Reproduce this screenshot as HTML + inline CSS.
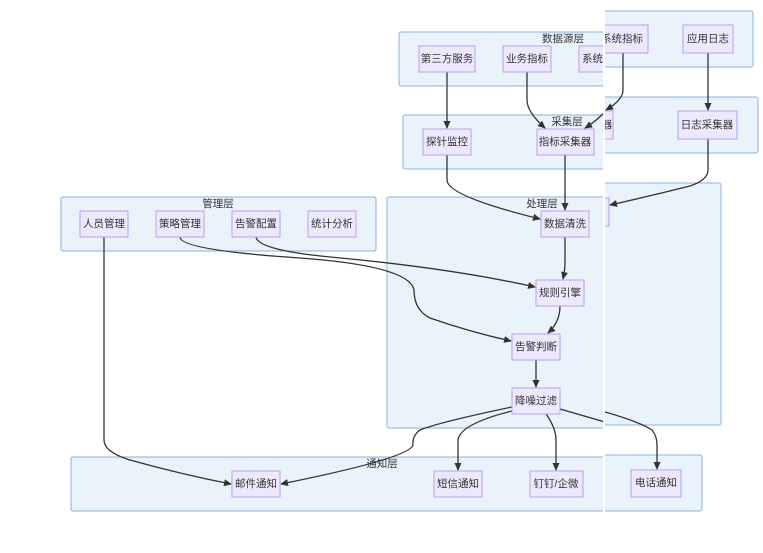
<!DOCTYPE html>
<html><head><meta charset="utf-8"><style>
html,body{margin:0;padding:0;background:#fff;}
svg{display:block;font-family:"Liberation Sans","Noto Sans CJK SC",sans-serif;}
.c{fill:#eaf2fc;stroke:#8eb2da;stroke-width:1;}
.n{fill:#ece9ff;stroke:#b9a0ea;stroke-width:1;}
.t{font-size:10.5px;fill:#333;text-anchor:middle;dominant-baseline:central;}
.e{fill:none;stroke:#333;stroke-width:1.3;}
</style></head><body>
<svg width="763" height="553" viewBox="0 0 763 553">
<defs><marker id="a" markerWidth="8" markerHeight="8" refX="7" refY="4" orient="auto" markerUnits="userSpaceOnUse"><path d="M0,0.5L8,4L0,7.5z" fill="#333"/></marker>
<clipPath id="L"><rect x="0" y="0" width="603" height="553"/></clipPath></defs>
<g clip-path="url(#L)">
<rect class="c" x="399" y="32" width="260" height="54" rx="2"/><text class="t" x="563" y="39">数据源层</text>
<rect class="c" x="403" y="115" width="260" height="54" rx="2"/><text class="t" x="567" y="122">采集层</text>
<rect class="c" x="387" y="197" width="260" height="231" rx="2"/><text class="t" x="542" y="204">处理层</text>
<rect class="c" x="61" y="197" width="315" height="54" rx="2"/><text class="t" x="218" y="204">管理层</text>
<rect class="c" x="71" y="457" width="600" height="54" rx="2"/><text class="t" x="382" y="464">通知层</text>
<path class="e" marker-end="url(#a)" d="M447,72V128"/>
<path class="e" marker-end="url(#a)" d="M527,72V100Q527,112 545,128"/>
<path class="e" marker-end="url(#a)" d="M605,112Q595,122 585,128"/>
<path class="e" marker-end="url(#a)" d="M447,155V180Q447,196 540,219"/>
<path class="e" marker-end="url(#a)" d="M565,155V210"/>
<path class="e" marker-end="url(#a)" d="M565,237V262Q565,270 563,279"/>
<path class="e" marker-end="url(#a)" d="M256,237Q258,250 330,257Q450,268 535,287"/>
<path class="e" marker-end="url(#a)" d="M180,237Q180,250 300,258Q410,266 414,290Q414,310 430,318Q470,332 511,341"/>
<path class="e" marker-end="url(#a)" d="M560,306Q560,322 548,333"/>
<path class="e" marker-end="url(#a)" d="M536,360V387"/>
<path class="e" marker-end="url(#a)" d="M512,407Q440,422 420,430Q412,436 413,445Q410,458 281,484"/>
<path class="e" marker-end="url(#a)" d="M512,411Q460,424 458,440V470"/>
<path class="e" marker-end="url(#a)" d="M546,414Q556,428 556,440V470"/>
<path class="e" d="M560,409L605,422"/>
<path class="e" marker-end="url(#a)" d="M104,237V440Q104,452 130,460Q180,474 231,484"/>
<rect class="n" x="419" y="46" width="56" height="26"/><text class="t" x="447" y="59">第三方服务</text>
<rect class="n" x="503" y="46" width="48" height="26"/><text class="t" x="527" y="59">业务指标</text>
<rect class="n" x="579" y="46" width="48" height="26"/><text class="t" x="603" y="59">系统指标</text>
<rect class="n" x="423" y="129" width="48" height="26"/><text class="t" x="447" y="142">探针监控</text>
<rect class="n" x="537" y="129" width="57" height="26"/><text class="t" x="565" y="142">指标采集器</text>
<rect class="n" x="541" y="211" width="48" height="26"/><text class="t" x="565" y="224">数据清洗</text>
<rect class="n" x="536" y="280" width="48" height="26"/><text class="t" x="560" y="293">规则引擎</text>
<rect class="n" x="512" y="334" width="48" height="26"/><text class="t" x="536" y="347">告警判断</text>
<rect class="n" x="512" y="388" width="48" height="26"/><text class="t" x="536" y="401">降噪过滤</text>
<rect class="n" x="80" y="211" width="48" height="26"/><text class="t" x="104" y="224">人员管理</text>
<rect class="n" x="156" y="211" width="48" height="26"/><text class="t" x="180" y="224">策略管理</text>
<rect class="n" x="232" y="211" width="48" height="26"/><text class="t" x="256" y="224">告警配置</text>
<rect class="n" x="308" y="211" width="48" height="26"/><text class="t" x="332" y="224">统计分析</text>
<rect class="n" x="232" y="471" width="48" height="26"/><text class="t" x="256" y="484">邮件通知</text>
<rect class="n" x="434" y="471" width="48" height="26"/><text class="t" x="458" y="484">短信通知</text>
<rect class="n" x="530" y="471" width="53" height="26"/><text class="t" x="556" y="484">钉钉/企微</text>
</g>
<rect x="603" y="0" width="160" height="553" fill="#fff"/>
<g>
<svg x="605" y="0" width="158" height="553" overflow="hidden">
<g transform="translate(-605,0)">
<rect class="c" x="590" y="11" width="163" height="56" rx="2"/>
<rect class="c" x="590" y="97" width="168" height="56" rx="2"/>
<rect class="c" x="590" y="183" width="131" height="242" rx="2"/>
<rect class="c" x="590" y="455" width="112" height="56" rx="2"/>
<path class="e" marker-end="url(#a)" d="M623,53V90Q623,100 606,110"/>
<path class="e" marker-end="url(#a)" d="M708,53V110"/>
<path class="e" marker-end="url(#a)" d="M708,139V170Q708,180 690,186Q650,196 610,205"/>
<path class="e" marker-end="url(#a)" d="M605,412Q640,422 652,430Q657,436 657,445V469"/>
<rect class="n" x="580" y="25" width="68" height="28"/><text class="t" x="622" y="39">系统指标</text>
<rect class="n" x="683" y="25" width="50" height="28"/><text class="t" x="708" y="39">应用日志</text>
<rect class="n" x="560" y="111" width="53" height="28"/><text class="t" x="607" y="125">器</text>
<rect class="n" x="678" y="111" width="59" height="28"/><text class="t" x="707" y="125">日志采集器</text>
<rect class="n" x="560" y="198" width="49" height="28"/>
<rect class="n" x="631" y="470" width="50" height="27"/><text class="t" x="656" y="483">电话通知</text>
</g></svg></g>
</svg>
</body></html>
